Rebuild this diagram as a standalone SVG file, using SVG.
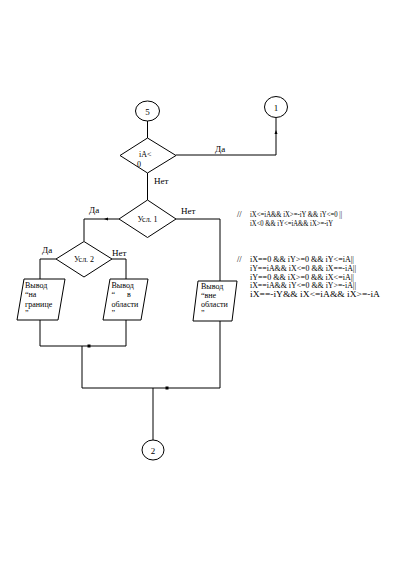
<svg xmlns="http://www.w3.org/2000/svg" width="395" height="585" viewBox="0 0 395 585">
<style>
.s{fill:#fff;stroke:#000;stroke-width:1}
.l{fill:none;stroke:#000;stroke-width:1}
.t{font-family:"Liberation Serif","Times New Roman",serif;font-size:8px;fill:#000}
.c{font-family:"Liberation Serif","Times New Roman",serif;font-size:8.5px;fill:#000}
.lb{font-family:"Liberation Serif","Times New Roman",serif;font-size:9px;fill:#000}
.a{fill:#000;stroke:none}
</style>
<rect width="395" height="585" fill="#fff"/>
<g id="connectors">
<polyline class="l" points="147.5,121 147.5,138"/>
<polyline class="l" points="176,155 276,155 276,118"/>
<polygon class="a" points="276,130 274.5,134 277.5,134"/>
<polyline class="l" points="147.5,173 147.5,200"/>
<polyline class="l" points="119,219 84,219 84,241"/>
<polygon class="a" points="104,219 108,217.5 108,220.5"/>
<polyline class="l" points="176,219 220,219 220,281"/>
<polyline class="l" points="56,259 40,259 40,279"/>
<polyline class="l" points="112,259 126,259 126,279"/>
<polyline class="l" points="40,320 40,346 126,346 126,320"/>
<polygon class="a" points="87.5,344.5 90.5,344.5 90.5,347.5 87.5,347.5"/>
<polyline class="l" points="82,346 82,388 220,388 220,321"/>
<polygon class="a" points="165.5,386.5 168.5,386.5 168.5,389.5 165.5,389.5"/>
<polyline class="l" points="153,388 153,440"/>
</g>
<g id="n5"><ellipse class="s" cx="147.5" cy="111" rx="12" ry="10"/><text class="lb" x="147.5" y="114.5" text-anchor="middle">5</text></g>
<g id="n1"><ellipse class="s" cx="276" cy="107" rx="11.5" ry="10.5"/><text class="lb" x="276" y="110.5" text-anchor="middle">1</text></g>
<g id="d0"><polygon class="s" points="147.5,138 176,155.5 147.5,173 120,155.5"/><text class="t" x="139" y="157">iA&lt;</text><text class="t" x="137" y="167">0</text></g>
<g id="d1"><polygon class="s" points="147.5,200 176,219 147.5,237.5 119,219"/><text class="t" x="147.5" y="222" text-anchor="middle" font-size="7.5">Усл. 1</text></g>
<g id="d2"><polygon class="s" points="84,241.5 112,259 84,277 56,259"/><text class="t" x="84" y="262" text-anchor="middle" font-size="7.5">Усл. 2</text></g>
<g id="p1"><polygon class="s" points="24,279 65,279 58,320 17,320"/><text class="t" x="25" y="288">Вывод</text><text class="t" x="25" y="297">“на</text><text class="t" x="25" y="306.5">границе</text><text class="t" x="25" y="315.5">”</text></g>
<g id="p2"><polygon class="s" points="110,279 148,279 141,320 103,320"/><text class="t" x="111.5" y="288">Вывод</text><text class="t" x="111.5" y="297">“  <tspan x="127">в</tspan></text><text class="t" x="111.5" y="306.5">области</text><text class="t" x="111.5" y="315.5">”</text></g>
<g id="p3"><polygon class="s" points="198,281 237,281 232,321 193,321"/><text class="t" x="201" y="289">Вывод</text><text class="t" x="201" y="298">“вне</text><text class="t" x="201" y="307">области</text><text class="t" x="201" y="316">”</text></g>
<g id="n2"><ellipse class="s" cx="153" cy="450" rx="11" ry="10"/><text class="lb" x="153" y="453.5" text-anchor="middle">2</text></g>
<g id="labels">
<text class="lb" x="215" y="152">Да</text>
<text class="lb" x="154" y="184">Нет</text>
<text class="lb" x="89" y="213">Да</text>
<text class="lb" x="181" y="214">Нет</text>
<text class="lb" x="42" y="253">Да</text>
<text class="lb" x="112" y="256">Нет</text>
</g>
<g id="comments">
<text class="c" x="237" y="217">//</text>
<text class="c" x="250" y="217" textLength="92" lengthAdjust="spacingAndGlyphs">iX&lt;=iA&amp;&amp; iX&gt;=-iY &amp;&amp; iY&lt;=0 ||</text>
<text class="c" x="250" y="226" textLength="83" lengthAdjust="spacingAndGlyphs">iX&lt;0 &amp;&amp; iY&lt;=iA&amp;&amp; iX&gt;=-iY</text>
<text class="c" x="237" y="262">//</text>
<text class="c" x="250" y="262" textLength="104" lengthAdjust="spacingAndGlyphs">iX==0 &amp;&amp; iY&gt;=0 &amp;&amp; iY&lt;=iA||</text>
<text class="c" x="250" y="271" textLength="106" lengthAdjust="spacingAndGlyphs">iY==iA&amp;&amp; iX&lt;=0 &amp;&amp; iX==-iA||</text>
<text class="c" x="250" y="279.5" textLength="104" lengthAdjust="spacingAndGlyphs">iY==0 &amp;&amp; iX&gt;=0 &amp;&amp; iX&lt;=iA||</text>
<text class="c" x="250" y="288" textLength="106" lengthAdjust="spacingAndGlyphs">iX==iA&amp;&amp; iY&lt;=0 &amp;&amp; iY&gt;=-iA||</text>
<text class="c" x="250" y="297" textLength="130" lengthAdjust="spacingAndGlyphs">iX==-iY&amp;&amp; iX&lt;=iA&amp;&amp; iX&gt;=-iA</text>
</g>
</svg>
